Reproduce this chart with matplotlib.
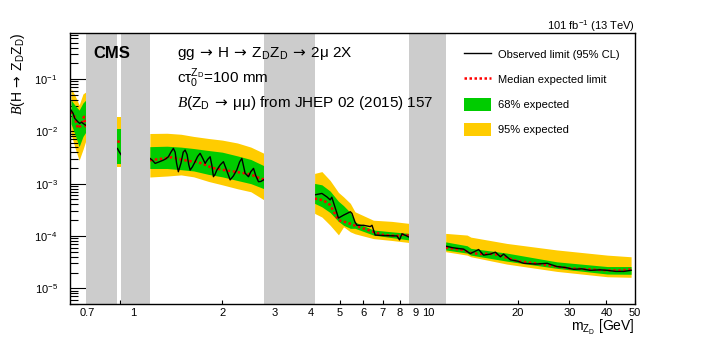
import numpy as np
import matplotlib
matplotlib.use("Agg")
import matplotlib.pyplot as plt
from matplotlib.lines import Line2D
from matplotlib.patches import Patch
from matplotlib.ticker import FixedLocator, FixedFormatter, LogLocator, LogFormatterSciNotation, NullFormatter

plt.rcParams["font.family"] = ["Liberation Sans", "DejaVu Sans"]
plt.rcParams["mathtext.fontset"] = "custom"
plt.rcParams["mathtext.rm"] = "Liberation Sans"
plt.rcParams["mathtext.it"] = "Liberation Sans:italic"
plt.rcParams["mathtext.sf"] = "DejaVu Sans"
plt.rcParams["mathtext.cal"] = "Liberation Serif:italic"

# vetoed mass windows (GeV)
veto_windows = [(0.691, 0.883), (0.911, 1.137), (2.77, 4.11), (8.58, 11.42)]

# expected bands
band_mass = [0.615, 0.633, 0.655, 0.675, 0.691,
             0.883, 0.911,
             1.137, 1.30, 1.45, 1.60, 1.80, 2.00, 2.25, 2.50, 2.77,
             4.11, 4.35, 4.64, 4.95, 5.15, 5.43, 5.63, 6.5, 7.5, 8.58,
             11.42, 13.5, 13.9, 18.4, 27.2, 40.3, 48.5]
band_lo95 = [0.009, 0.005, 0.0028, 0.0045, 0.0068,
             0.0021, 0.0021,
             0.00134, 0.00140, 0.00147, 0.00135, 0.00110, 0.00095, 0.00080, 0.00070, 0.00049,
             0.00027, 0.00023, 0.00016, 0.000105, 0.00015, 0.00012, 0.00011, 8.9e-5, 8.2e-5, 7.5e-5,
             5.0e-5, 4.3e-5, 4.0e-5, 2.9e-5, 2.1e-5, 1.66e-5, 1.62e-5]
band_lo68 = [0.014, 0.009, 0.0051, 0.0080, 0.0098,
             0.0024, 0.0024,
             0.00195, 0.00195, 0.00185, 0.00175, 0.00150, 0.00135, 0.00115, 0.00100, 0.00080,
             0.00042, 0.00036, 0.00028, 0.00019, 0.00016, 0.00014, 0.00014, 0.000104, 9.3e-5, 8.4e-5,
             5.4e-5, 4.7e-5, 4.3e-5, 3.3e-5, 2.4e-5, 1.87e-5, 1.85e-5]
band_hi68 = [0.040, 0.032, 0.0255, 0.035, 0.040,
             0.011, 0.011,
             0.0051, 0.0052, 0.0050, 0.0047, 0.0043, 0.0040, 0.0034, 0.0029, 0.0022,
             0.00101, 0.00095, 0.00072, 0.00046, 0.00038, 0.00028, 0.000185, 0.00013, 0.00012, 0.000112,
             7.7e-5, 6.5e-5, 5.8e-5, 4.7e-5, 3.2e-5, 2.6e-5, 2.6e-5]
band_hi95 = [0.066, 0.050, 0.032, 0.052, 0.057,
             0.019, 0.019,
             0.0091, 0.0092, 0.0088, 0.0080, 0.0073, 0.0068, 0.0060, 0.0050, 0.0038,
             0.00157, 0.00170, 0.00115, 0.00068, 0.00056, 0.00042, 0.00029, 0.00020, 0.00019, 0.000174,
             0.000112, 0.000104, 9.5e-5, 7.2e-5, 5.4e-5, 4.3e-5, 4.0e-5]

# observed limit
obs_mass = [0.615, 0.625, 0.633, 0.649, 0.658, 0.668, 0.675, 0.688,
            0.883, 0.897, 0.911,
            1.139, 1.16, 1.185, 1.22, 1.264, 1.29, 1.314, 1.34, 1.366, 1.385, 1.40, 1.420,
            1.45, 1.475, 1.497, 1.52, 1.54, 1.557, 1.585, 1.618, 1.65, 1.683, 1.715, 1.750,
            1.785, 1.820, 1.845, 1.867, 1.89, 1.917, 1.97, 2.018, 2.07, 2.127, 2.18, 2.240,
            2.29, 2.330, 2.36, 2.390, 2.454, 2.50, 2.552, 2.60, 2.653, 2.70, 2.760,
            4.11, 4.35, 4.52, 4.64, 4.70, 4.95, 5.15, 5.43, 5.50, 5.63, 5.72, 6.02, 6.34, 6.43,
            6.59, 7.03, 7.81, 7.97, 8.12, 8.43, 8.58,
            11.42, 12.0, 12.49, 13.14, 13.84, 14.77, 15.35, 16.18, 16.83, 17.50, 17.95, 18.92,
            20.0, 20.99, 23.0, 25.2, 27.2, 29.0, 31.0, 33.0, 35.3, 38.0, 40.3, 43.0, 45.8, 48.5]
obs_limit = [0.0255, 0.022, 0.0177, 0.0152, 0.0142, 0.0150, 0.0142, 0.0132,
             0.0047, 0.0040, 0.0035,
             0.00304, 0.0028, 0.00244, 0.0026, 0.00282, 0.0030, 0.00327, 0.0040, 0.00473, 0.0040, 0.0025, 0.00169,
             0.0025, 0.0040, 0.00439, 0.0036, 0.0023, 0.00182, 0.0021, 0.00263, 0.0033, 0.00380, 0.0031, 0.00244,
             0.0029, 0.00327, 0.0022, 0.00136, 0.0015, 0.00182, 0.0023, 0.00263, 0.0018, 0.00118, 0.0014, 0.00182,
             0.0026, 0.00304, 0.0022, 0.00158, 0.00136, 0.0017, 0.00196, 0.0014, 0.00109, 0.0011, 0.00118,
             0.00061, 0.00065, 0.00056, 0.00049, 0.00055, 0.00022, 0.00025, 0.00029, 0.00027, 0.000185, 0.00016, 0.00016, 0.000151, 0.00016,
             0.000104, 0.000102, 0.000100, 8.4e-5, 0.00011, 0.0001, 9.5e-5,
             6.4e-5, 6.0e-5, 5.8e-5, 5.6e-5, 4.6e-5, 5.5e-5, 4.3e-5, 4.5e-5, 4.9e-5, 4.0e-5, 4.5e-5, 3.5e-5,
             3.3e-5, 3.0e-5, 2.9e-5, 3.0e-5, 2.6e-5, 2.5e-5, 2.3e-5, 2.35e-5, 2.2e-5, 2.25e-5, 2.2e-5, 2.1e-5, 2.1e-5, 2.2e-5]

# median expected limit
exp_mass = [0.615, 0.630, 0.649, 0.665, 0.680, 0.690,
            0.883, 0.911,
            1.137, 1.25, 1.35, 1.45, 1.55, 1.65, 1.75, 1.85, 1.95, 2.05, 2.2, 2.35, 2.5, 2.65, 2.77,
            4.11, 4.4, 4.64, 4.95, 5.3, 5.6, 6.0, 6.5, 7.0, 7.8, 8.3, 8.58,
            11.42, 13.0, 14.0, 15.0, 16.0, 17.0, 18.5, 20.0, 23.0, 26.0, 30.0, 35.0, 40.0, 45.0, 48.5]
exp_limit = [0.024, 0.020, 0.0114, 0.013, 0.019, 0.012,
             0.0065, 0.0060,
             0.0028, 0.0030, 0.0032, 0.0029, 0.0027, 0.0026, 0.0023, 0.0020, 0.0019, 0.0018, 0.0017, 0.0016, 0.0015, 0.0013, 0.0012,
             0.00052, 0.00048, 0.00039, 0.00020, 0.00018, 0.00016, 0.00014, 0.00012, 0.000105, 0.0001, 0.000108, 0.0001,
             6.0e-5, 5.4e-5, 4.7e-5, 4.5e-5, 4.6e-5, 4.4e-5, 3.8e-5, 3.3e-5, 3.0e-5, 2.7e-5, 2.4e-5, 2.3e-5, 2.2e-5, 2.2e-5, 2.3e-5]

GREEN = "#00cc00"
YELLOW = "#ffcc00"
GRAY = "#cccccc"
ARROW = r"$\:\mathsf{\rightarrow}\:$"


def segments(mass):
    # split points into the allowed mass ranges between vetoed windows
    m = np.asarray(mass)
    edges = [0.0] + [v for w in veto_windows for v in w] + [1e3]
    out = []
    for lo, hi in zip(edges[0::2], edges[1::2]):
        sel = (m >= lo - 1e-9) & (m <= hi + 1e-9)
        if sel.any():
            out.append(sel)
    return out


fig = plt.figure(figsize=(7.06, 3.38), dpi=100)
ax = fig.add_axes([70 / 706, 1 - 304 / 338, 565 / 706, 271 / 338])

bm = np.asarray(band_mass)
for sel in segments(band_mass):
    ax.fill_between(bm[sel], np.asarray(band_lo95)[sel], np.asarray(band_hi95)[sel],
                    color=YELLOW, lw=0, zorder=1)
    ax.fill_between(bm[sel], np.asarray(band_lo68)[sel], np.asarray(band_hi68)[sel],
                    color=GREEN, lw=0, zorder=2)

em = np.asarray(exp_mass)
for sel in segments(exp_mass):
    ax.plot(em[sel], np.asarray(exp_limit)[sel], color="red", ls=(0, (1, 1)), lw=1.8, zorder=3)

om = np.asarray(obs_mass)
for sel in segments(obs_mass):
    ax.plot(om[sel], np.asarray(obs_limit)[sel], color="black", lw=1.0, zorder=4)

for lo, hi in veto_windows:
    ax.axvspan(lo, hi, color=GRAY, lw=0, zorder=5)

ax.set_xscale("log")
ax.set_yscale("log")
ax.set_xlim(0.61, 50)
ax.set_ylim(5e-6, 0.76)

ax.xaxis.set_major_locator(FixedLocator([1, 10]))
ax.xaxis.set_major_formatter(FixedFormatter(["1", "10"]))
minor_x = [0.7, 0.8, 0.9, 2, 3, 4, 5, 6, 7, 8, 9, 20, 30, 40, 50]
minor_lbl = ["0.7", "", "", "2", "3", "4", "5", "6", "7", "8", "9", "20", "30", "40", "50"]
ax.xaxis.set_minor_locator(FixedLocator(minor_x))
ax.xaxis.set_minor_formatter(FixedFormatter(minor_lbl))
ax.yaxis.set_major_locator(LogLocator(base=10, numticks=12))
ax.yaxis.set_major_formatter(LogFormatterSciNotation())
ax.yaxis.set_minor_locator(LogLocator(base=10, subs=np.arange(2, 10), numticks=12))
ax.yaxis.set_minor_formatter(NullFormatter())

ax.tick_params(axis="both", which="both", direction="in", top=False, right=False,
               labelsize=8, width=0.8)
ax.tick_params(axis="y", which="major", length=12, pad=9)
ax.tick_params(axis="y", which="minor", length=6)
ax.tick_params(axis="x", which="major", length=6, pad=3)
ax.tick_params(axis="x", which="minor", length=3, pad=3)
for s in ax.spines.values():
    s.set_linewidth(1.0)
    s.set_zorder(10)

ax.text(0.041, 0.926, "CMS", transform=ax.transAxes, fontsize=12, fontweight="bold",
        va="center", ha="left", zorder=11)
ax.text(0.189, 0.926, f"gg{ARROW}H{ARROW}Z$_\\mathrm{{D}}$Z$_\\mathrm{{D}}${ARROW}2μ 2X",
        transform=ax.transAxes, fontsize=11, va="center", ha="left", zorder=11)
ax.text(0.189, 0.833, "c$\\mathrm{τ}_0^{\\mathrm{Z_D}}$=100 mm", transform=ax.transAxes,
        fontsize=11, va="center", ha="left", zorder=11)
ax.text(0.189, 0.742, f"$\\mathcal{{B}}$(Z$_\\mathrm{{D}}${ARROW}μμ) from JHEP 02 (2015) 157",
        transform=ax.transAxes, fontsize=11, va="center", ha="left", zorder=11)

handles = [Line2D([], [], color="black", lw=1.0),
           Line2D([], [], color="red", ls=(0, (1, 1)), lw=1.8),
           Patch(facecolor=GREEN, edgecolor="none"),
           Patch(facecolor=YELLOW, edgecolor="none")]
labels = ["Observed limit (95% CL)", "Median expected limit", "68% expected", "95% expected"]
leg = ax.legend(handles, labels, loc="upper left", bbox_to_anchor=(0.698, 0.945),
                frameon=False, fontsize=8, handlelength=2.4, handleheight=1.5,
                handletextpad=0.6, labelspacing=1.03, borderpad=0, borderaxespad=0)
leg.set_zorder(12)

fig.text(635 / 706, 1 - 26 / 338, "101 fb$^{-1}$ (13 TeV)", ha="right", va="center", fontsize=8)
fig.text(635 / 706, 1 - 317.5 / 338, "m$_{\\mathrm{Z_D}}$ [GeV]", ha="right", va="top", fontsize=10)
fig.text(18 / 706, 1 - 33 / 338, f"$\\mathcal{{B}}$(H{ARROW}Z$_\\mathrm{{D}}$Z$_\\mathrm{{D}}$)",
         rotation=90, ha="center", va="top", fontsize=10)

fig.savefig("out.png", dpi=100)
